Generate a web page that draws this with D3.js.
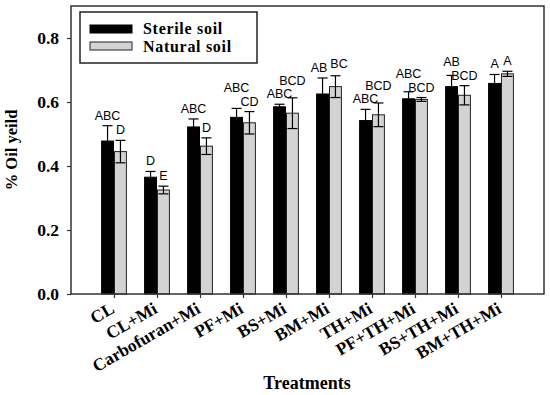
<!DOCTYPE html>
<html>
<head>
<meta charset="utf-8">
<script src="https://cdn.jsdelivr.net/npm/d3@7/dist/d3.min.js"></script>
<style>
  html, body { margin: 0; padding: 0; background: #fff; }
  svg { display: block; }
</style>
</head>
<body>
<svg id="chart" width="550" height="395"></svg>
<script>
const categories = ["CL","CL+Mi","Carbofuran+Mi","PF+Mi","BS+Mi","BM+Mi","TH+Mi","PF+TH+Mi","BS+TH+Mi","BM+TH+Mi"];
const sterile    = [0.478,0.365,0.522,0.552,0.585,0.625,0.542,0.610,0.648,0.658];
const sterileErr = [0.048,0.018,0.025,0.028,0.008,0.050,0.035,0.022,0.035,0.028];
const natural    = [0.445,0.325,0.462,0.535,0.565,0.648,0.560,0.608,0.621,0.688];
const naturalErr = [0.035,0.012,0.026,0.035,0.048,0.034,0.037,0.006,0.030,0.008];
const sterileLetters = ["ABC","D","ABC","ABC","ABC","AB","ABC","ABC","AB","A"];
const naturalLetters = ["D","E","D","CD","BCD","BC","BCD","BCD","BCD","A"];
const yTicks = [0.0, 0.2, 0.4, 0.6, 0.8];
const seriesNames = ["Sterile soil", "Natural soil"];

const svg = d3.select("#chart");
const L = 71, R = 544, T = 6, B = 294;
const x = d3.scaleLinear().domain([0, categories.length + 1]).range([L, R]);
const y = d3.scaleLinear().domain([0, 0.9]).range([B, T]);
const slot = x(1) - x(0);
const bw = slot * 0.3;
const capW = 10;
const serif = "'Liberation Serif','Times New Roman',serif";
const sans = "'Liberation Sans',Arial,sans-serif";

const series = [
  {name: seriesNames[0], vals: sterile, errs: sterileErr, letters: sterileLetters, fill: "#000", stroke: "#000", off: -1},
  {name: seriesNames[1], vals: natural, errs: naturalErr, letters: naturalLetters, fill: "#d3d3d3", stroke: "#222", off: 0}
];

// bars
series.forEach(s => {
  svg.append("g").selectAll("rect").data(categories).join("rect")
    .attr("x", (d, i) => x(i + 1) + s.off * bw + 0.5)
    .attr("y", (d, i) => y(s.vals[i]))
    .attr("width", bw - 1)
    .attr("height", (d, i) => y(0) - y(s.vals[i]))
    .attr("fill", s.fill)
    .attr("stroke", s.stroke)
    .attr("stroke-width", 1);
});

// error bars
series.forEach(s => {
  const g = svg.append("g").attr("stroke", "#000").attr("stroke-width", 1.2).attr("fill", "none");
  categories.forEach((c, i) => {
    const cx = x(i + 1) + s.off * bw + bw / 2;
    const hi = y(s.vals[i] + s.errs[i]), lo = y(s.vals[i] - s.errs[i]);
    g.append("line").attr("x1", cx).attr("x2", cx).attr("y1", hi).attr("y2", lo);
    g.append("line").attr("x1", cx - capW / 2).attr("x2", cx + capW / 2).attr("y1", hi).attr("y2", hi);
    g.append("line").attr("x1", cx - capW / 2).attr("x2", cx + capW / 2).attr("y1", lo).attr("y2", lo);
  });
});

// significance letters (simple collision avoidance)
const lg = svg.append("g").attr("font-family", sans).attr("font-size", "12.5px").attr("fill", "#000").attr("text-anchor", "middle");
const gap = 6, th = 13.5;
categories.forEach((c, i) => {
  const items = series.map(s => {
    const cx = x(i + 1) + s.off * bw + bw / 2;
    const by = y(s.vals[i] + s.errs[i]) - gap;
    const t = lg.append("text").attr("x", cx).attr("y", by).text(s.letters[i]);
    const w = t.node().getComputedTextLength();
    return {t, cx, by, w};
  });
  const [a, b] = items;
  const hOverlap = (a.cx + a.w / 2) - (b.cx - b.w / 2);
  const vOverlap = Math.abs(a.by - b.by) < th;
  if (hOverlap > 0 && vOverlap) {
    if (hOverlap < 8) {
      a.t.attr("x", a.cx - hOverlap / 2 - 1.5);
      b.t.attr("x", b.cx + hOverlap / 2 + 1.5);
      b.t.attr("y", Math.min(a.by, b.by) - 2);
    } else if (b.by <= a.by) {
      b.t.attr("y", a.by - th);
    } else {
      a.t.attr("y", b.by - th);
    }
  }
});

// frame
svg.append("rect").attr("x", L).attr("y", T).attr("width", R - L).attr("height", B - T)
  .attr("fill", "none").attr("stroke", "#333").attr("stroke-width", 1.5);

// y axis
const yAxis = svg.append("g").attr("transform", `translate(${L},0)`)
  .call(d3.axisLeft(y).tickValues(yTicks).tickFormat(d3.format(".1f")).tickSize(4).tickPadding(8));
yAxis.select(".domain").remove();
yAxis.selectAll("line").attr("stroke", "#333").attr("stroke-width", 1.2);
yAxis.selectAll("text").attr("font-family", serif).attr("font-weight", "bold").attr("font-size", "17.5px").attr("fill", "#000");

// x axis
const xAxis = svg.append("g").attr("transform", `translate(0,${B})`)
  .call(d3.axisBottom(x).tickValues(d3.range(1, categories.length + 1)).tickFormat(d => categories[d - 1]).tickSize(4));
xAxis.select(".domain").remove();
xAxis.selectAll("line").attr("stroke", "#333").attr("stroke-width", 1.2);
xAxis.selectAll("text")
  .attr("font-family", serif).attr("font-weight", "bold").attr("font-size", "17.5px").attr("fill", "#000")
  .attr("text-anchor", "end").attr("y", 0).attr("dy", 0)
  .attr("transform", "translate(1,18) rotate(-30)");

// axis titles
svg.append("text").attr("transform", `translate(17,${(T + B) / 2}) rotate(-90)`)
  .attr("text-anchor", "middle").attr("font-family", serif).attr("font-weight", "bold").attr("font-size", "16.5px")
  .text("% Oil yeild");
svg.append("text").attr("x", 307).attr("y", 389)
  .attr("text-anchor", "middle").attr("font-family", serif).attr("font-weight", "bold").attr("font-size", "18px")
  .text("Treatments");

// legend
const leg = svg.append("g");
leg.append("rect").attr("x", 80).attr("y", 12).attr("width", 177).attr("height", 51)
  .attr("fill", "#fff").attr("stroke", "#222").attr("stroke-width", 1.5);
series.forEach((s, k) => {
  leg.append("rect").attr("x", 90).attr("y", 25 + k * 17).attr("width", 42).attr("height", 8)
    .attr("fill", s.fill).attr("stroke", s.stroke).attr("stroke-width", 1);
  leg.append("text").attr("x", 143).attr("y", 34 + k * 18)
    .attr("font-family", serif).attr("font-weight", "bold").attr("font-size", "16px")
    .attr("letter-spacing", "0.7px").attr("fill", "#000")
    .text(s.name);
});
</script>
</body>
</html>
